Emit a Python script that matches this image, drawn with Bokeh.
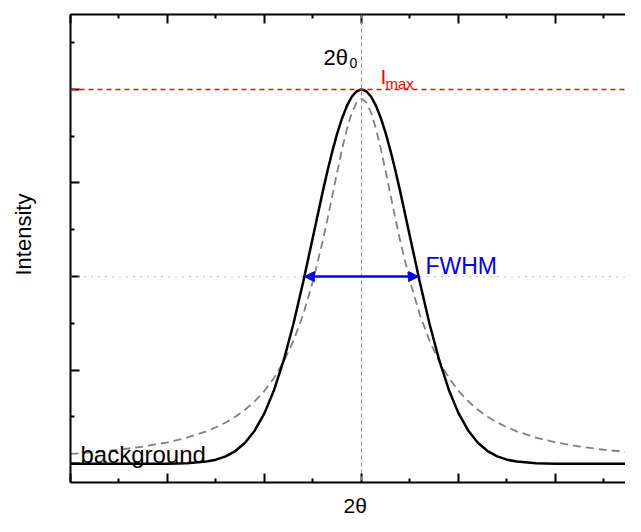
from bokeh.plotting import figure
from bokeh.models import Range1d, LinearAxis, FixedTicker, Span, Label, Arrow, NormalHead, Title
from bokeh.embed import file_html
from bokeh.resources import INLINE

# ---- data ----
two_theta = [-3.0, -2.75, -2.5, -2.25, -2.0, -1.8, -1.6, -1.5, -1.4, -1.3, -1.2, -1.1, -1.0,
             -0.9, -0.8, -0.7, -0.6, -0.5, -0.4, -0.35, -0.3, -0.25, -0.2, -0.15, -0.1, -0.05,
             0.0, 0.05, 0.1, 0.15, 0.2, 0.25, 0.3, 0.35, 0.4, 0.5, 0.6, 0.7, 0.8, 0.9, 1.0,
             1.1, 1.2, 1.3, 1.4, 1.5, 1.6, 1.8, 2.0, 2.25, 2.5, 2.75, 3.0]
gauss_intensity = [0.000, 0.000, 0.000, 0.000, 0.001, 0.006, 0.024, 0.044, 0.079, 0.136, 0.225,
                   0.356, 0.541, 0.792, 1.112, 1.501, 1.947, 2.426, 2.905, 3.131, 3.341, 3.530,
                   3.692, 3.824, 3.921, 3.980, 4.000, 3.980, 3.921, 3.824, 3.692, 3.530, 3.341,
                   3.131, 2.905, 2.426, 1.947, 1.501, 1.112, 0.792, 0.541, 0.356, 0.225, 0.136,
                   0.079, 0.044, 0.024, 0.006, 0.001, 0.000, 0.000, 0.000, 0.000]
lorentz_intensity = [0.105, 0.125, 0.150, 0.184, 0.229, 0.279, 0.347, 0.390, 0.441, 0.503, 0.577,
                     0.668, 0.780, 0.920, 1.096, 1.318, 1.598, 1.950, 2.378, 2.617, 2.868, 3.120,
                     3.362, 3.578, 3.750, 3.861, 3.900, 3.861, 3.750, 3.578, 3.362, 3.120, 2.868,
                     2.617, 2.378, 1.950, 1.598, 1.318, 1.096, 0.920, 0.780, 0.668, 0.577, 0.503,
                     0.441, 0.390, 0.347, 0.279, 0.229, 0.184, 0.150, 0.125, 0.105]
peak_center = 0.0
i_max = 4.0
half_max = 2.0
fwhm = 1.178

x_major = [-3, -2, -1, 0, 1, 2, 3]
x_minor = [-2.5, -1.5, -0.5, 0.5, 1.5, 2.5]
y_major = [0, 1, 2, 3, 4]
y_minor = [0.5, 1.5, 2.5, 3.5, 4.5]

FONT = "Liberation Sans"

p = figure(width=625, height=516, output_backend="svg", toolbar_location=None,
           x_range=Range1d(-3.0, 2.722), y_range=Range1d(-0.2, 4.8),
           min_border_left=70, min_border_right=0, min_border_top=14, min_border_bottom=34)
p.outline_line_color = None
p.xgrid.visible = False
p.ygrid.visible = False
p.background_fill_color = "white"
p.border_fill_color = "white"

top_axis = LinearAxis()
p.add_layout(top_axis, "above")

def style_axis(ax, major, minor):
    ax.ticker = FixedTicker(ticks=major, minor_ticks=minor)
    ax.major_label_overrides = {float(t): "" for t in major}
    ax.major_label_text_font_size = "0px"
    ax.major_label_standoff = 0
    ax.axis_line_width = 2
    ax.axis_line_color = "black"
    ax.major_tick_line_width = 2
    ax.minor_tick_line_width = 2
    ax.major_tick_line_color = "black"
    ax.minor_tick_line_color = "black"
    ax.major_tick_in = 9
    ax.major_tick_out = 0
    ax.minor_tick_in = 4
    ax.minor_tick_out = 0

for ax in p.xaxis:
    style_axis(ax, x_major, x_minor)
for ax in p.yaxis:
    style_axis(ax, y_major, y_minor)

# blank spacer panels between the axes and their titles
p.add_layout(Title(text=" ", text_font=FONT, text_font_size="7px", standoff=0), "below")
p.add_layout(Title(text=" ", text_font=FONT, text_font_size="22px", standoff=8), "left")

# axis titles
p.add_layout(Title(text="2θ", align="left", offset=273, text_font=FONT, text_color="black",
                   text_font_size="21px", text_font_style="normal", standoff=0), "below")
p.add_layout(Title(text="Intensity", align="left", offset=207, text_font=FONT, text_color="black",
                   text_font_size="22px", text_font_style="normal", standoff=0), "left")

# reference lines
p.add_layout(Span(location=peak_center, dimension="height", line_color="#8a8a8a",
                  line_width=1, line_dash="4 3"))
p.add_layout(Span(location=half_max, dimension="width", line_color="#a0a0a0",
                  line_width=1.3, line_dash="1 6"))
p.add_layout(Span(location=i_max, dimension="width", line_color="#ff0000",
                  line_width=1.5, line_dash="5 4"))

# curves
p.line(two_theta, lorentz_intensity, line_color="#808080", line_width=1.8, line_dash="8 5")
p.line(two_theta, gauss_intensity, line_color="black", line_width=2.5)

# FWHM arrow
p.add_layout(Arrow(x_start=peak_center - fwhm / 2, y_start=half_max,
                   x_end=peak_center + fwhm / 2, y_end=half_max,
                   line_color="#0000ff", line_width=2.5,
                   start=NormalHead(size=10, fill_color="#0000ff", line_color="#0000ff", line_width=1),
                   end=NormalHead(size=10, fill_color="#0000ff", line_color="#0000ff", line_width=1)))

def lab(x, y, text, size, color="black", **kw):
    p.add_layout(Label(x=x, y=y, text=text, text_font=FONT, text_font_size=size,
                       text_color=color, text_baseline="alphabetic", **kw))

lab(-0.392, 4.341, "2θ", "22px")
lab(-0.124, 4.277, "0", "14px")
lab(0.196, 4.138, "I", "21px", "#ff0000")
lab(0.247, 4.058, "max", "15px", "#ff0000")
lab(0.66, 2.108, "FWHM", "23px", "#0000ff")
lab(-2.897, 0.094, "background", "24px")

open("out.html", "w").write(file_html(p, INLINE))
